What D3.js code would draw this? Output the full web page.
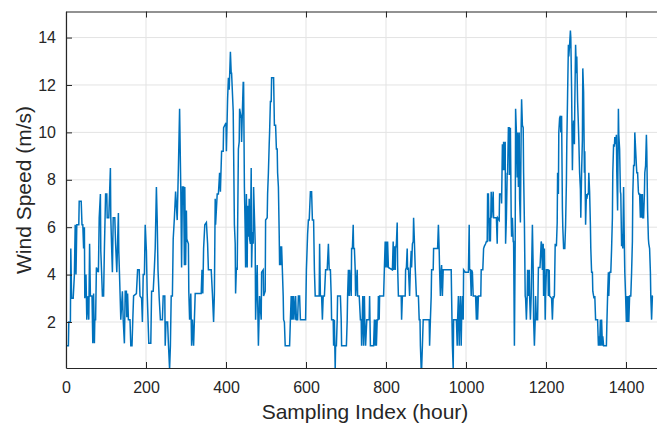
<!DOCTYPE html>
<html>
<head>
<meta charset="utf-8">
<script src="https://cdn.jsdelivr.net/npm/d3@7"></script>
<style>
  body { margin: 0; background: #fff; }
  text { font-family: 'Liberation Sans', Arial, Helvetica, sans-serif; fill: #262626; }
</style>
</head>
<body>
<svg id="chart" width="657" height="425"></svg>
<script>
// hour index of each vertex
var hours = [
  0, 6, 7, 11, 12, 14, 18, 21, 23, 25, 27, 32, 33, 38, 40, 42, 44, 46, 47, 50,
  52, 55, 57, 59, 61, 65, 67, 69, 71, 72, 74, 76, 81, 83, 86, 87, 89, 91, 94, 96,
  99, 102, 103, 107, 111, 112, 114, 116, 118, 122, 124, 127, 131, 132, 135, 137, 141, 143, 146, 148,
  151, 152, 154, 156, 160, 162, 165, 167, 169, 176, 179, 183, 185, 189, 191, 193, 196, 198, 201, 203,
  207, 212, 214, 218, 221, 223, 226, 228, 230, 233, 236, 241, 243, 247,
  248, 250, 254, 256, 259, 261, 263, 266, 268, 271, 274, 278, 281, 284, 286, 287, 289, 291, 294, 296,
  297, 299, 301, 302, 306, 307, 309, 312, 314, 316, 319, 321, 323, 338, 340, 342, 344, 347, 351, 354,
  356, 363, 366, 369, 371, 373, 374, 378, 381, 384, 386, 389, 393, 394, 400, 401, 404, 406, 408, 411,
  413, 414, 418, 421, 423, 424, 426, 428, 431, 433, 434, 438, 439, 441, 443, 444, 446, 448, 449, 451,
  453, 454, 456, 458, 459, 461, 463, 464, 466, 468, 469, 473, 474,
  476, 478, 479, 481, 484, 488, 489, 493, 494, 498, 499, 503, 504, 506, 508, 509, 511, 513, 514, 519,
  521, 524, 526, 528, 529, 531, 533, 534, 536, 538, 539, 543, 544, 546, 548, 559, 561, 563, 564, 566,
  568, 569, 573, 574, 576, 579, 581, 584, 586, 599, 601, 604, 606, 608, 611, 614, 616, 619, 621, 623,
  633, 634, 636, 639, 641, 643, 646, 649, 653, 656, 658, 661, 663, 664, 668, 669, 671, 673, 674, 676,
  678, 679, 686, 688, 689, 701, 703, 704, 706, 708, 709, 713, 714, 716, 718, 719, 721, 723, 724, 728,
  729, 733, 736, 738, 739, 742, 744, 746, 747,
  749, 752, 758, 759, 761, 769, 771, 773, 774, 776, 778, 780, 781, 783, 784, 794, 796, 798, 799, 801,
  803, 804, 806, 816, 818, 819, 821, 823, 824, 826, 828, 829, 831, 838, 839, 841, 848, 849, 851, 853,
  854, 856, 859, 861, 863, 864, 866, 868, 869, 871, 873, 876, 881, 883, 885, 886, 888, 889, 891, 893,
  908, 909, 911, 913, 914, 918, 919, 929, 931, 933, 934, 936, 938, 939, 941, 943, 963, 964, 966, 968,
  969, 976, 978, 979, 981, 983, 984, 986, 988, 989, 991, 993, 994,
  998, 1006, 1008, 1009, 1011, 1013, 1014, 1016, 1018, 1024, 1026, 1028, 1029, 1031, 1037, 1038, 1042, 1044, 1046, 1049,
  1051, 1053, 1054, 1056, 1058, 1059, 1061, 1063, 1064, 1068, 1069, 1076, 1078, 1079, 1083, 1084, 1088, 1089, 1091, 1093,
  1094, 1096, 1098, 1099, 1101, 1103, 1104, 1106, 1108, 1109, 1111, 1113, 1114, 1116, 1118, 1119, 1121, 1123, 1124, 1126,
  1128, 1129, 1131, 1133, 1134, 1136, 1138, 1139, 1141, 1143, 1144, 1146, 1148, 1149, 1151, 1153, 1154, 1156, 1158, 1159,
  1161, 1163, 1164, 1166, 1168, 1169, 1171, 1173, 1174, 1176, 1179, 1181, 1185, 1188, 1189, 1191, 1193, 1194, 1196, 1198,
  1199, 1201, 1205, 1206, 1208, 1209, 1214, 1216, 1218, 1219, 1221, 1223,
  1226, 1228, 1229, 1231, 1232, 1234, 1236, 1237, 1239, 1241, 1242, 1244, 1247, 1249, 1251, 1252, 1254, 1256, 1257, 1259,
  1261, 1262, 1264, 1266, 1267, 1269, 1271, 1272, 1274, 1276, 1277, 1279, 1281, 1282, 1284, 1286, 1287, 1289, 1291, 1292,
  1294, 1296, 1297, 1299, 1301, 1302, 1304, 1306, 1307, 1309, 1311, 1312, 1314, 1316, 1317, 1319, 1320, 1322, 1324, 1329,
  1331, 1332, 1334, 1336, 1337, 1339, 1341, 1342, 1344, 1351, 1352, 1354, 1356, 1357, 1359, 1362, 1364, 1366, 1367, 1369,
  1371, 1372, 1374, 1376, 1377, 1379, 1381, 1382, 1384, 1386, 1387, 1389, 1391, 1392, 1394, 1396, 1397, 1399, 1401, 1402,
  1404, 1406, 1407, 1409, 1412, 1414, 1416, 1417, 1419, 1421, 1422, 1424, 1426, 1427, 1429, 1431, 1432, 1434, 1436, 1437,
  1439, 1441, 1442, 1444, 1446, 1447, 1449, 1451, 1452, 1454, 1456, 1457, 1459, 1461, 1462, 1464, 1466, 1467
];

// wind speed (m/s) at each vertex
var windSpeed = [
  1.0, 1.0, 2.0, 2.0, 5.1, 3.0, 3.0, 4.0, 6.1, 4.0, 6.1, 6.1, 7.1, 7.1, 6.1, 6.1, 5.1, 6.0, 3.0, 4.0,
  2.1, 3.1, 2.1, 5.3, 3.1, 3.1, 1.1, 3.2, 1.1, 2.1, 2.1, 4.3, 4.1, 6.4, 7.4, 5.0, 4.1, 3.1, 3.1, 5.1,
  7.4, 7.4, 6.4, 6.4, 8.5, 6.4, 5.2, 4.1, 6.4, 6.4, 5.3, 4.1, 6.6, 5.0, 3.3, 2.1, 3.3, 2.1, 1.1, 3.3,
  3.3, 2.2, 3.2, 2.1, 2.1, 1.0, 1.0, 2.1, 3.1, 3.2, 4.2, 4.2, 3.1, 3.0, 2.0, 4.0, 4.0, 6.1, 5.0, 3.2,
  1.1, 1.1, 3.3, 3.3, 4.3, 5.1, 7.7, 6.3, 4.2, 3.0, 2.1, 2.1, 3.1, 3.1,
  1.0, 2.0, 2.0, 1.1, 0.0, 1.0, 3.1, 3.1, 5.5, 6.4, 7.5, 6.3, 8.5, 11.0, 8.7, 7.6, 4.3, 7.7, 7.7, 4.4,
  7.7, 4.4, 6.7, 5.5, 5.3, 3.3, 2.1, 3.2, 1.0, 2.1, 1.0, 2.1, 3.2, 3.2, 4.2, 3.2, 5.1, 6.1, 6.2, 5.3,
  4.2, 4.2, 3.2, 2.0, 3.2, 7.2, 6.1, 7.4, 7.4, 8.3, 7.5, 9.2, 9.2, 10.2, 10.4, 9.2, 11.4, 12.3, 11.8, 13.4,
  12.5, 12.5, 10.9, 6.1, 5.3, 3.2, 4.3, 4.2, 9.3, 9.6, 11.0, 10.6, 9.6, 10.9, 12.1, 12.1, 7.7, 5.8, 4.3, 7.4,
  4.3, 6.9, 5.6, 7.2, 5.5, 5.3, 8.5, 4.3, 5.8, 5.3, 7.7, 5.3, 2.1,
  3.3, 4.4, 3.1, 1.0, 3.1, 2.1, 4.1, 4.2, 3.1, 3.3, 6.3, 6.4, 7.4, 8.3, 9.5, 10.0, 11.3, 11.3, 12.3, 12.3,
  10.3, 10.3, 9.3, 9.3, 8.3, 7.7, 5.7, 4.4, 5.2, 4.4, 5.2, 3.1, 2.1, 2.0, 1.0, 1.0, 2.1, 3.1, 2.1, 3.1,
  2.1, 3.1, 2.1, 3.1, 2.1, 2.1, 3.1, 3.1, 2.1, 2.1, 4.2, 5.7, 6.3, 6.3, 7.5, 7.5, 6.3, 6.3, 4.2, 3.1,
  3.1, 5.3, 3.1, 3.1, 2.1, 3.1, 3.1, 4.2, 4.2, 5.3, 4.2, 4.2, 3.1, 2.1, 2.1, 1.0, 2.1, 0.0, 1.0, 1.0,
  2.1, 3.1, 3.1, 2.1, 1.0, 1.0, 2.1, 3.1, 4.2, 3.1, 4.2, 3.1, 5.1, 5.1, 6.1, 5.1, 5.1, 4.2, 3.1, 4.2,
  3.1, 3.1, 2.1, 2.1, 1.0, 3.1, 1.0, 3.1, 2.1,
  1.0, 2.1, 2.1, 3.1, 1.0, 1.0, 2.1, 1.0, 2.1, 1.0, 2.1, 2.1, 3.1, 2.1, 3.1, 3.1, 4.3, 5.4, 4.3, 5.4,
  4.3, 5.4, 4.3, 4.2, 5.4, 4.2, 5.2, 4.2, 5.1, 5.3, 6.2, 4.4, 3.1, 3.1, 2.1, 3.1, 3.1, 4.2, 4.3, 5.1,
  4.2, 4.3, 3.1, 4.3, 5.0, 4.3, 5.3, 5.4, 6.4, 5.4, 4.3, 3.1, 3.1, 2.1, 2.1, 1.0, 0.0, 0.0, 1.0, 2.1,
  2.1, 1.0, 2.1, 3.1, 4.2, 4.2, 5.1, 5.1, 6.1, 5.0, 4.2, 3.1, 4.2, 4.4, 3.1, 4.2, 4.2, 3.1, 1.0, 0.0,
  2.1, 2.1, 1.0, 2.1, 3.1, 1.0, 2.1, 3.1, 1.0, 2.1, 3.1, 2.1, 4.2,
  4.1, 4.1, 6.1, 4.2, 4.2, 3.1, 4.2, 4.1, 3.1, 3.1, 2.1, 3.1, 2.1, 3.1, 3.1, 4.2, 4.2, 5.1, 5.2, 5.3,
  5.4, 5.4, 7.4, 7.4, 5.4, 6.4, 5.4, 7.5, 6.4, 7.5, 6.4, 6.4, 5.3, 6.4, 6.3, 7.4, 7.4, 7.0, 9.5, 8.4,
  9.6, 8.4, 9.6, 5.3, 6.4, 8.3, 8.2, 10.2, 10.2, 8.2, 10.2, 6.4, 5.6, 6.4, 5.4, 5.4, 1.0, 5.4, 11.0, 10.0,
  8.1, 10.0, 7.7, 10.0, 7.2, 6.2, 10.3, 11.4, 10.3, 10.2, 8.3, 6.2, 3.1, 3.0, 2.1, 3.1, 4.2, 3.1, 4.2, 3.1,
  2.1, 3.1, 4.2, 6.1, 4.2, 2.1, 1.0, 2.1, 3.1, 2.1, 2.1, 4.3, 4.3, 5.4, 5.3, 4.2, 5.3, 3.1, 5.1, 2.1,
  3.1, 4.2, 4.2, 3.1, 4.2, 3.1, 3.0, 2.1, 3.1, 3.0, 3.1, 5.3,
  5.2, 6.2, 8.3, 7.4, 10.0, 10.6, 10.7, 10.0, 10.7, 6.8, 6.0, 5.1, 5.1, 6.1, 7.9, 9.5, 11.6, 13.7, 13.2, 13.7,
  14.3, 14.0, 11.8, 8.4, 9.5, 10.5, 9.5, 11.2, 13.7, 12.5, 13.2, 11.3, 10.3, 9.7, 8.3, 7.6, 6.4, 8.3, 9.7, 12.7,
  11.7, 8.3, 9.2, 6.1, 7.4, 7.2, 7.4, 7.4, 8.3, 7.5, 6.1, 5.1, 4.1, 4.1, 3.3, 3.1, 3.0, 3.1, 2.1, 2.1,
  1.0, 1.4, 1.0, 2.1, 1.0, 2.1, 1.0, 1.4, 1.0, 1.0, 1.8, 3.1, 4.1, 3.1, 4.1, 4.1, 5.1, 6.4, 8.3, 9.5,
  9.4, 9.8, 9.5, 9.9, 8.3, 6.7, 11.0, 9.9, 9.3, 7.5, 7.4, 5.2, 5.7, 5.1, 7.7, 5.1, 4.1, 3.1, 2.0, 3.1,
  2.0, 3.1, 2.0, 3.1, 3.1, 4.1, 5.4, 7.4, 8.6, 8.6, 10.0, 9.3, 8.6, 8.3, 8.3, 7.5, 7.4, 7.4, 6.4, 7.4,
  6.4, 7.4, 6.4, 6.4, 7.4, 8.3, 8.6, 9.9, 9.2, 6.7, 5.5, 5.3, 5.1, 4.1, 3.1, 2.1, 3.1, 3.1
];

var xTicks = [0, 200, 400, 600, 800, 1000, 1200, 1400];
var yTicks = [2, 4, 6, 8, 10, 12, 14];

var svg = d3.select('#chart');
var margin = { left: 66, top: 11.5, bottom: 368 };
var axisColor = '#262626';
var gridColor = '#e3e3e3';

// the axes box runs past the right edge of the window
var xScale = d3.scaleLinear().domain([0, 1500]).range([margin.left, 666]);
var yScale = d3.scaleLinear().domain([0.06, 15.1]).range([margin.bottom, margin.top]);

svg.append('rect')
  .attr('width', 657)
  .attr('height', 425)
  .attr('fill', '#fff');

svg.append('defs').append('clipPath')
  .attr('id', 'plotClip')
  .append('rect')
  .attr('x', margin.left)
  .attr('y', margin.top)
  .attr('width', 666 - margin.left)
  .attr('height', margin.bottom - margin.top);

var gridGroup = svg.append('g');
gridGroup.selectAll('.gx').data(xTicks).enter().append('line')
  .attr('class', 'gx')
  .attr('x1', function(d) { return xScale(d); })
  .attr('x2', function(d) { return xScale(d); })
  .attr('y1', margin.top)
  .attr('y2', margin.bottom)
  .attr('stroke', gridColor)
  .attr('stroke-width', 1);
gridGroup.selectAll('.gy').data(yTicks).enter().append('line')
  .attr('class', 'gy')
  .attr('x1', margin.left)
  .attr('x2', 666)
  .attr('y1', function(d) { return yScale(d); })
  .attr('y2', function(d) { return yScale(d); })
  .attr('stroke', gridColor)
  .attr('stroke-width', 1);

var points = hours.map(function(h, i) {
  return [h, windSpeed[i]];
});

var line = d3.line()
  .x(function(d) { return xScale(d[0]); })
  .y(function(d) { return yScale(d[1]); });

svg.append('path')
  .datum(points)
  .attr('clip-path', 'url(#plotClip)')
  .attr('d', line)
  .attr('fill', 'none')
  .attr('stroke', '#0072BD')
  .attr('stroke-width', 1.5)
  .attr('stroke-linejoin', 'miter');

// axes, ticks point inward like matlab
var xAxis = d3.axisBottom(xScale).tickValues(xTicks).tickFormat(d3.format('d'))
  .tickSizeInner(-6).tickSizeOuter(0).tickPadding(14);
var xTopAxis = d3.axisTop(xScale).tickValues(xTicks).tickSizeInner(-6).tickSizeOuter(0).tickFormat('');
var yAxis = d3.axisLeft(yScale).tickValues(yTicks).tickSizeInner(-6).tickSizeOuter(0).tickPadding(10);

var xAxisGroup = svg.append('g')
  .attr('transform', 'translate(0,' + margin.bottom + ')')
  .call(xAxis);
var xTopGroup = svg.append('g')
  .attr('transform', 'translate(0,' + margin.top + ')')
  .call(xTopAxis);
var yAxisGroup = svg.append('g')
  .attr('transform', 'translate(' + margin.left + ',0)')
  .call(yAxis);

[xAxisGroup, xTopGroup, yAxisGroup].forEach(function(g) {
  g.select('.domain').attr('stroke', axisColor).attr('stroke-width', 1.2);
  g.selectAll('.tick line').attr('stroke', axisColor).attr('stroke-width', 1);
  g.selectAll('.tick text')
    .attr('fill', axisColor)
    .style('font-size', '16px')
    .style('font-family', "'Liberation Sans', Arial, sans-serif");
});

svg.append('text')
  .attr('x', 365)
  .attr('y', 419)
  .attr('text-anchor', 'middle')
  .style('font-size', '21px')
  .text('Sampling Index (hour)');

svg.append('text')
  .attr('transform', 'translate(31,' + 190 + ') rotate(-90)')
  .attr('text-anchor', 'middle')
  .style('font-size', '21px')
  .text('Wind Speed (m/s)');
</script>
</body>
</html>
